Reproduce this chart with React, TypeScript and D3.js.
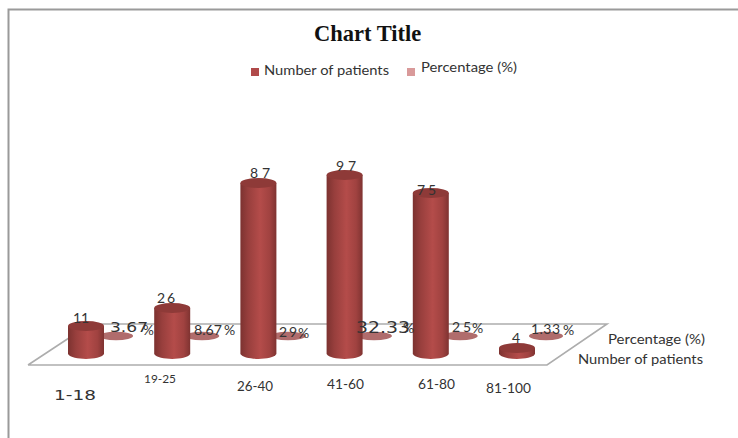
import React from "react";
import * as d3 from "d3";

const categories = ["1-18", "19-25", "26-40", "41-60", "61-80", "81-100"];
const patients = [11, 26, 87, 97, 75, 4];
const percentages = [3.67, 8.67, 29, 32.33, 25, 1.33];
const patientLabels = ["11", "26", "87", "97", "75", "4"];
const percentLabels = ["3.67", "8.67", "29", "32.33", "25", "1.33"];
const seriesNames = ["Number of patients", "Percentage (%)"];

// Perspective floor of the 3D plot: front edge and back edge.
const FRONT_Y = 365;
const BACK_Y = 324;
const BASE_Y = 354;
const DISC_Y = 336;
const BAR_RX = 18;
const BAR_RY = 5;
const INK = "#333333";
const LABEL_FONT = "Lato, 'Open Sans', sans-serif";
const WIDE_FONT = "'DejaVu Sans', sans-serif";

// Front row of cylinders, back row of discs.
const xFront = d3.scalePoint<string>().domain(categories).range([86, 517]);
const xBack = d3.scalePoint<string>().domain(categories).range([116, 546]);

// The plot's vertical axis is not uniform, so the height follows a piecewise scale.
const height = d3
  .scaleLinear()
  .domain([0, 4, 11, 26, 75, 87, 97])
  .range([0, 6, 28, 46, 161, 171, 179]);

// Disc radius stays nearly constant; percentages only nudge it.
const discRx = d3.scaleLinear().domain([0, 35]).range([17, 18]);

const cylinderSide = (cx: number, top: number, bottom: number) => {
  const p = d3.path();
  p.moveTo(cx - BAR_RX, top);
  p.lineTo(cx - BAR_RX, bottom);
  p.bezierCurveTo(cx - BAR_RX + 4, bottom + BAR_RY * 1.3, cx + BAR_RX - 4, bottom + BAR_RY * 1.3, cx + BAR_RX, bottom);
  p.lineTo(cx + BAR_RX, top);
  p.closePath();
  return p.toString();
};

type TextSpec = {
  x: number;
  y: number;
  size: number;
  font?: string;
  length?: number;
  adjust?: "spacing" | "spacingAndGlyphs";
};

const categoryText: TextSpec[] = [
  { x: 54, y: 400, size: 14, font: WIDE_FONT, length: 42, adjust: "spacingAndGlyphs" },
  { x: 144, y: 383, size: 12, length: 32, adjust: "spacingAndGlyphs" },
  { x: 237, y: 391, size: 13.5, length: 36, adjust: "spacingAndGlyphs" },
  { x: 327, y: 389, size: 13.5, length: 37, adjust: "spacingAndGlyphs" },
  { x: 418, y: 389, size: 13.5, length: 37, adjust: "spacingAndGlyphs" },
  { x: 486, y: 393, size: 13.5, length: 45, adjust: "spacingAndGlyphs" },
];

const patientText: TextSpec[] = [
  { x: 73, y: 323, size: 14, length: 16, adjust: "spacing" },
  { x: 157, y: 303, size: 14, length: 18, adjust: "spacing" },
  { x: 250, y: 178, size: 14, length: 20, adjust: "spacing" },
  { x: 336, y: 171, size: 14, length: 20, adjust: "spacing" },
  { x: 417, y: 195, size: 14, length: 19, adjust: "spacing" },
  { x: 512, y: 343, size: 14 },
];

const percentText: TextSpec[] = [
  { x: 110, y: 332, size: 14, font: WIDE_FONT, length: 38, adjust: "spacingAndGlyphs" },
  { x: 194, y: 335, size: 13.5, length: 28, adjust: "spacingAndGlyphs" },
  { x: 279, y: 337, size: 14, length: 18, adjust: "spacing" },
  { x: 356, y: 333, size: 15, font: WIDE_FONT, length: 54, adjust: "spacingAndGlyphs" },
  { x: 452, y: 332, size: 14, length: 19, adjust: "spacing" },
  { x: 531, y: 334, size: 14, length: 29, adjust: "spacing" },
];

const percentSign: TextSpec[] = [
  { x: 143, y: 335, size: 13.5 },
  { x: 224, y: 335, size: 14 },
  { x: 298, y: 338, size: 14 },
  { x: 403, y: 333, size: 14 },
  { x: 472, y: 333, size: 14 },
  { x: 563, y: 335, size: 14 },
];

const Label = ({ spec, text }: { spec: TextSpec; text: string }) => (
  <text
    x={spec.x}
    y={spec.y}
    fontSize={spec.size}
    fontFamily={spec.font ?? LABEL_FONT}
    fill={INK}
    textLength={spec.length}
    lengthAdjust={spec.adjust}
  >
    {text}
  </text>
);

export default function App() {
  return (
    <svg
      width={738}
      height={438}
      viewBox="0 0 738 438"
      style={{ position: "absolute", left: 0, top: 0, display: "block", background: "#fff" }}
    >
      <defs>
        <linearGradient id="cylinder" x1="0" x2="1" y1="0" y2="0">
          <stop offset="0" stopColor="#7c3230" />
          <stop offset="0.22" stopColor="#983f3d" />
          <stop offset="0.55" stopColor="#b44c4a" />
          <stop offset="0.82" stopColor="#a04240" />
          <stop offset="1" stopColor="#7f3331" />
        </linearGradient>
      </defs>

      {/* Chart area border: top and left edges only */}
      <path d="M8.5 438V9.5H738" fill="none" stroke="#9a9a9a" strokeWidth={2} />

      <text x={314} y={41} fontFamily="'Liberation Serif', serif" fontWeight={700} fontSize={22.5} fill="#111">
        Chart Title
      </text>

      {/* Legend */}
      <rect x={251} y={68} width={8} height={8} fill="#b04a4a" />
      <text x={264} y={75} fontFamily={LABEL_FONT} fontSize={14} fill={INK} textLength={125} lengthAdjust="spacingAndGlyphs">
        {seriesNames[0]}
      </text>
      <rect x={407} y={68} width={8} height={8} fill="#d99a9a" />
      <text x={421} y={72} fontFamily={LABEL_FONT} fontSize={14} fill={INK} textLength={96} lengthAdjust="spacingAndGlyphs">
        {seriesNames[1]}
      </text>

      {/* Floor of the plot */}
      <path
        d={`M28 ${FRONT_Y}H547L607 ${BACK_Y}H100M28 ${FRONT_Y}L72 ${BACK_Y + 12}`}
        fill="none"
        stroke="#adadad"
        strokeWidth={1.6}
      />

      {/* Back row: flat percentage discs */}
      {categories.map((c, i) => (
        <ellipse
          key={c}
          cx={xBack(c)}
          cy={DISC_Y}
          rx={discRx(percentages[i])}
          ry={4.2}
          fill="#b06c6c"
        />
      ))}

      {/* Front row: patient-count cylinders */}
      {categories.map((c, i) => {
        const cx = xFront(c) as number;
        const top = BASE_Y - height(patients[i]);
        return (
          <g key={c}>
            <path d={cylinderSide(cx, top, BASE_Y)} fill="url(#cylinder)" />
            <ellipse cx={cx} cy={top} rx={BAR_RX} ry={BAR_RY} fill="#8e3a38" />
          </g>
        );
      })}

      {/* Data labels sit above both rows */}
      {percentLabels.map((t, i) => (
        <Label key={t} spec={percentText[i]} text={t} />
      ))}
      {percentSign.map((s, i) => (
        <Label key={i} spec={s} text="%" />
      ))}
      {patientLabels.map((t, i) => (
        <Label key={t} spec={patientText[i]} text={t} />
      ))}

      {/* Category labels along the front edge */}
      {categories.map((c, i) => (
        <Label key={c} spec={categoryText[i]} text={c} />
      ))}

      {/* Series names beside the depth axis */}
      <text x={608} y={344} fontFamily={LABEL_FONT} fontSize={14} fill={INK} textLength={97} lengthAdjust="spacingAndGlyphs">
        {seriesNames[1]}
      </text>
      <text x={578} y={364} fontFamily={LABEL_FONT} fontSize={14} fill={INK} textLength={125} lengthAdjust="spacingAndGlyphs">
        {seriesNames[0]}
      </text>
    </svg>
  );
}
